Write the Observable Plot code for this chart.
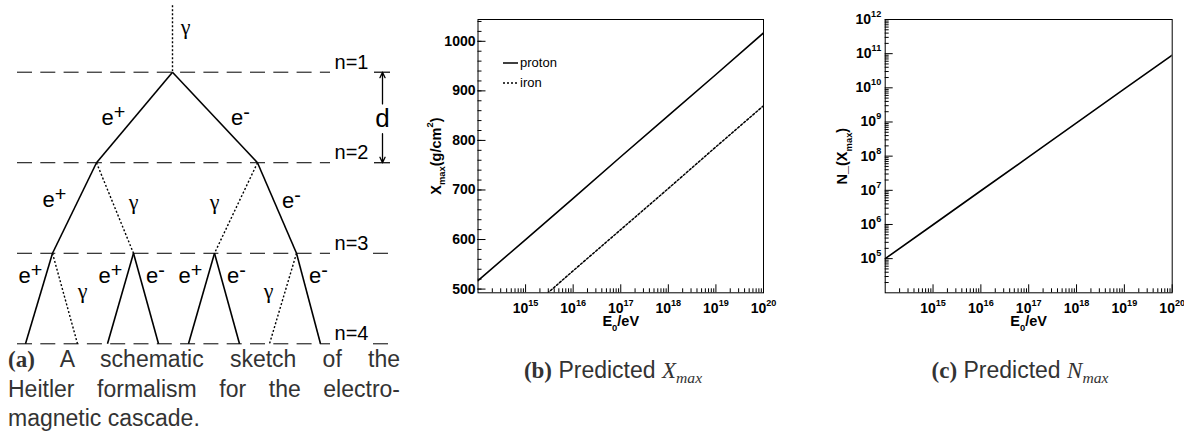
<!DOCTYPE html>
<html><head><meta charset="utf-8">
<script src="https://cdn.jsdelivr.net/npm/d3@7"></script>
<script src="https://cdn.jsdelivr.net/npm/@observablehq/plot@0.6"></script>
<style>
html,body{margin:0;padding:0;background:#fff;}
#root{position:relative;width:1184px;height:438px;overflow:hidden;font-family:"Liberation Sans",Arial,sans-serif;}
.panel{position:absolute;top:0;}
.cap{position:absolute;color:#333;font-family:"Liberation Sans",sans-serif;font-size:23px;}
.lbl{font-family:"Liberation Serif",serif;font-weight:bold;}
.mi{font-family:"Liberation Serif",serif;font-style:italic;}
.sub{font-size:0.68em;vertical-align:-0.3em;line-height:0;}
.just{text-align:justify;text-align-last:justify;}
.legend{position:absolute;left:503px;top:53px;font:13px "Liberation Sans",sans-serif;line-height:20px;color:#000;}
.legend .row{display:flex;align-items:center;height:20px;}
.legend svg{margin-right:2px;}
</style></head><body><div id="root">
<div id="pa" class="panel" style="left:0"></div>
<div id="pb" class="panel" style="left:420px"></div>
<div id="pc" class="panel" style="left:820px"></div>
<div id="legend" class="legend"></div>
<div class="cap" style="left:8px;top:345px;width:392px;line-height:29.5px;">
  <div class="just"><span class="lbl">(a)</span> A schematic sketch of the</div>
  <div class="just">Heitler formalism for the electro-</div>
  <div>magnetic cascade.</div>
</div>
<div class="cap" style="left:463px;top:356px;width:300px;text-align:center;line-height:28px;"><span class="lbl">(b)</span> Predicted <span class="mi">X<span class="sub">max</span></span></div>
<div class="cap" style="left:870px;top:356px;width:300px;text-align:center;line-height:28px;"><span class="lbl">(c)</span> Predicted <span class="mi">N<span class="sub">max</span></span></div>
</div>
<script>
// ---------- data ----------
const energies = [1e14, 1e15, 1e16, 1e17, 1e18, 1e19, 1e20];           // E0 / eV
const xmaxProton = [517, 600, 683, 767, 850, 933, 1017];              // g/cm^2
const xmaxIron   = [370, 453, 537, 620, 703, 787, 870];               // g/cm^2
const nmaxValues = [1.0e5, 9.8e5, 9.7e6, 9.5e7, 9.4e8, 9.3e9, 9.1e10];
const seriesNames = ["proton", "iron"];
const xmaxTicks = [500, 600, 700, 800, 900, 1000];
const energyTicks = [1e15, 1e16, 1e17, 1e18, 1e19, 1e20];
const nmaxTicks = [1e5, 1e6, 1e7, 1e8, 1e9, 1e10, 1e11, 1e12];
const xmaxDomain = [492.5, 1044];
const energyDomain = [1e14, 1e20];
const nmaxDomain = [1e4, 1e12];

// schematic (panel a): cascade levels, branches and particle labels
const levels = [1, 2, 3, 4];
const levelNames = ["n=1", "n=2", "n=3", "n=4"];
const branches = [
  {x1: 172, n1: 0.26, x2: 172, n2: 1, kind: "γ"},
  {x1: 172, n1: 1, x2: 96,  n2: 2, kind: "e"},
  {x1: 172, n1: 1, x2: 257, n2: 2, kind: "e"},
  {x1: 96,  n1: 2, x2: 52,  n2: 3, kind: "e"},
  {x1: 96,  n1: 2, x2: 133, n2: 3, kind: "γ"},
  {x1: 257, n1: 2, x2: 214, n2: 3, kind: "γ"},
  {x1: 257, n1: 2, x2: 296, n2: 3, kind: "e"},
  {x1: 52,  n1: 3, x2: 25,  n2: 4, kind: "e"},
  {x1: 52,  n1: 3, x2: 77,  n2: 4, kind: "γ"},
  {x1: 133, n1: 3, x2: 107, n2: 4, kind: "e"},
  {x1: 133, n1: 3, x2: 158, n2: 4, kind: "e"},
  {x1: 214, n1: 3, x2: 188, n2: 4, kind: "e"},
  {x1: 214, n1: 3, x2: 239, n2: 4, kind: "e"},
  {x1: 296, n1: 3, x2: 269, n2: 4, kind: "γ"},
  {x1: 296, n1: 3, x2: 320, n2: 4, kind: "e"}
];
const electronLabels = [
  {x: 113, n: 1.50, t: "e^{+}"}, {x: 240, n: 1.50, t: "e^{-}"},
  {x: 54,  n: 2.41, t: "e^{+}"}, {x: 291, n: 2.42, t: "e^{-}"},
  {x: 30,  n: 3.25, t: "e^{+}"}, {x: 110, n: 3.25, t: "e^{+}"},
  {x: 155, n: 3.25, t: "e^{-}"}, {x: 190, n: 3.25, t: "e^{+}"},
  {x: 236, n: 3.25, t: "e^{-}"}, {x: 318, n: 3.25, t: "e^{-}"}
];
const photonLabels = [
  {x: 185, n: 0.50}, {x: 133, n: 2.43}, {x: 214, n: 2.43},
  {x: 82, n: 3.42}, {x: 268, n: 3.42}
];
const dArrows = [{x: 382, from: 1.35, to: 1}, {x: 382, from: 1.68, to: 2}];

// ---------- helpers ----------
const FONT = "Liberation Sans, Arial, sans-serif";
function richify(svg, {supScale = 0.65, supShift = 0.5, subScale = 0.65, subShift = 0.3} = {}) {
  const NS = "http://www.w3.org/2000/svg";
  svg.querySelectorAll("text").forEach(t => {
    const s = t.textContent;
    if (!/[_^]\{/.test(s)) return;
    const fs = parseFloat(getComputedStyle(t).fontSize) || 12;
    t.textContent = "";
    const re = /([_^])\{([^}]*)\}/g;
    let last = 0, cur = 0, m;
    const add = (txt, off, scale) => {
      if (!txt) return;
      const ts = document.createElementNS(NS, "tspan");
      ts.textContent = txt;
      const dy = off - cur;
      if (dy) ts.setAttribute("dy", dy);
      if (scale !== 1) ts.style.fontSize = (fs * scale) + "px";
      cur = off;
      t.appendChild(ts);
    };
    while ((m = re.exec(s))) {
      add(s.slice(last, m.index), 0, 1);
      if (m[1] === "^") add(m[2], -supShift * fs, supScale);
      else add(m[2], subShift * fs, subScale);
      last = re.lastIndex;
    }
    add(s.slice(last), 0, 1);
  });
}
const logMinor = (lo, hi) => {
  const out = [];
  for (let d = lo; d < hi; d++) for (let k = 2; k <= 9; k++) out.push(k * Math.pow(10, d));
  return out;
};

// ---------- panel a: schematic ----------
const pa = Plot.plot({
  width: 400, height: 350, margin: 0,
  style: {fontFamily: FONT, background: "transparent", overflow: "visible"},
  x: {domain: [0, 400], range: [0, 400], axis: null},
  y: {domain: [1, 4], range: [71.7, 343.3], axis: null},
  marks: [
    Plot.ruleY(levels, {y: d => d, x1: 17, x2: 330, stroke: "#000", strokeWidth: 1, strokeDasharray: "15,8.3"}),
    Plot.ruleY(levels.filter(n => n > 2), {y: d => d, x1: 373, x2: 388, stroke: "#000", strokeWidth: 1}),
    Plot.ruleY(levels.filter(n => n <= 2), {y: d => d, x1: 374, x2: 390, stroke: "#000", strokeWidth: 1.2}),
    Plot.arrow(dArrows, {x1: "x", y1: "from", x2: "x", y2: "to", headLength: 7, headAngle: 50, stroke: "#000", strokeWidth: 1.3}),
    Plot.text(["d"], {x: () => 382, y: () => 1.515, text: d => d, fontSize: 26, fill: "#000", lineAnchor: "middle"}),
    Plot.link(branches.filter(b => b.kind === "e"), {x1: "x1", y1: "n1", x2: "x2", y2: "n2", stroke: "#000", strokeWidth: 1.6}),
    Plot.link(branches.filter(b => b.kind === "γ"), {x1: "x1", y1: "n1", x2: "x2", y2: "n2", stroke: "#000", strokeWidth: 1.4, strokeDasharray: "2,2"}),
    Plot.text(levels, {x: () => 351, y: d => d, dy: -10, text: (d, i) => levelNames[i], fontSize: 20, fill: "#000", lineAnchor: "middle"}),
    Plot.text(electronLabels, {x: "x", y: "n", text: "t", fontSize: 22, fill: "#000", lineAnchor: "middle"}),
    Plot.text(photonLabels, {x: "x", y: "n", text: () => "γ", fontSize: 22, fill: "#000", lineAnchor: "middle", fontFamily: "Liberation Serif, serif"})
  ]
});
document.getElementById("pa").appendChild(pa);
richify(pa, {supScale: 0.9, supShift: 0.25});

// ---------- panels b and c ----------
function framePlot({width, height, ml, mr, mt, mb, yType, yDomain, yMajor, yMinor, yFmt, yPad, yTitle, yTitleDx, lines}) {
  const fw = width - ml - mr, fh = height - mt - mb;
  return Plot.plot({
    width, height, marginLeft: ml, marginRight: mr, marginTop: mt, marginBottom: mb,
    style: {fontFamily: FONT, fontWeight: "bold", fontSize: "14px", background: "transparent", overflow: "visible", color: "#000"},
    x: {type: "log", domain: energyDomain, label: null},
    y: {type: yType, domain: yDomain, label: null},
    marks: [
      Plot.frame({stroke: "#000", strokeWidth: 1}),
      Plot.tickY(yMinor, {y: d => d, insetRight: fw - 4, stroke: "#000", strokeWidth: 1}),
      Plot.tickY(yMajor, {y: d => d, insetRight: fw - 8, stroke: "#000", strokeWidth: 1}),
      Plot.tickX(logMinor(14, 20), {x: d => d, insetTop: fh - 4, stroke: "#000", strokeWidth: 1}),
      Plot.tickX(energyTicks, {x: d => d, insetTop: fh - 8, stroke: "#000", strokeWidth: 1}),
      Plot.axisY(yMajor, {tickSize: 0, tickPadding: yPad, tickFormat: yFmt, fontSize: 14, fontWeight: "bold", fill: "#000", label: null}),
      Plot.axisX(energyTicks, {tickSize: 0, tickPadding: 10, tickFormat: d => `10^{${Math.round(Math.log10(d))}}`, fontSize: 14, fontWeight: "bold", fill: "#000", label: null}),
      ...lines,
      Plot.text([yTitle], {frameAnchor: "left", dx: yTitleDx, rotate: -90, text: d => d, textAnchor: "middle", lineAnchor: "middle", fontSize: 14.5, fontWeight: "bold", fill: "#000"}),
      Plot.text(["E_{0}/eV"], {frameAnchor: "bottom", dy: 29, text: d => d, textAnchor: "middle", lineAnchor: "middle", fontSize: 14.5, fontWeight: "bold", fill: "#000"})
    ]
  });
}
function boldTicks(svg) {
  svg.querySelectorAll("g[aria-label$='tick label'] text").forEach(t => {
    t.style.fontWeight = "bold";
    t.style.fontSize = "14px";
    t.style.fontFamily = FONT;
  });
}
const protonRows = energies.map((e, i) => ({E: e, v: xmaxProton[i]}));
const ironRows = energies.map((e, i) => ({E: e, v: xmaxIron[i]}));
const pb = framePlot({
  width: 360, height: 340, ml: 57.5, mr: 17, mt: 19, mb: 47.7,
  yType: "linear", yDomain: xmaxDomain, yMajor: xmaxTicks,
  yMinor: d3.range(500, 1041, 20), yFmt: d => String(d), yPad: 2.5,
  yTitle: "X_{max}(g/cm^{2})", yTitleDx: -42,
  lines: [
    Plot.line(protonRows, {x: "E", y: "v", stroke: "#000", strokeWidth: 1.6, clip: true}),
    Plot.line(ironRows, {x: "E", y: "v", stroke: "#000", strokeWidth: 1.5, strokeDasharray: "2,2", clip: true})
  ]
});
document.getElementById("pb").appendChild(pb);
boldTicks(pb);
richify(pb);

const nRows = energies.map((e, i) => ({E: e, v: nmaxValues[i]}));
const pc = framePlot({
  width: 364, height: 340, ml: 64.7, mr: 12.3, mt: 19, mb: 47.7,
  yType: "log", yDomain: nmaxDomain, yMajor: nmaxTicks,
  yMinor: logMinor(4, 12), yFmt: d => `10^{${Math.round(Math.log10(d))}}`, yPad: 4,
  yTitle: "N_(X_{max})", yTitleDx: -42.7,
  lines: [Plot.line(nRows, {x: "E", y: "v", stroke: "#000", strokeWidth: 1.6, clip: true})]
});
document.getElementById("pc").appendChild(pc);
boldTicks(pc);
richify(pc);

// ---------- legend (panel b) ----------
const styles = {proton: null, iron: "2,2"};
const lg = d3.select("#legend");
seriesNames.forEach(name => {
  const row = lg.append("div").attr("class", "row");
  const s = row.append("svg").attr("width", 15).attr("height", 4);
  s.append("line").attr("x1", 0).attr("x2", 15).attr("y1", 2).attr("y2", 2)
    .attr("stroke", "#000").attr("stroke-width", 1.5).attr("stroke-dasharray", styles[name]);
  row.append("span").text(name);
});
</script>
</body></html>
